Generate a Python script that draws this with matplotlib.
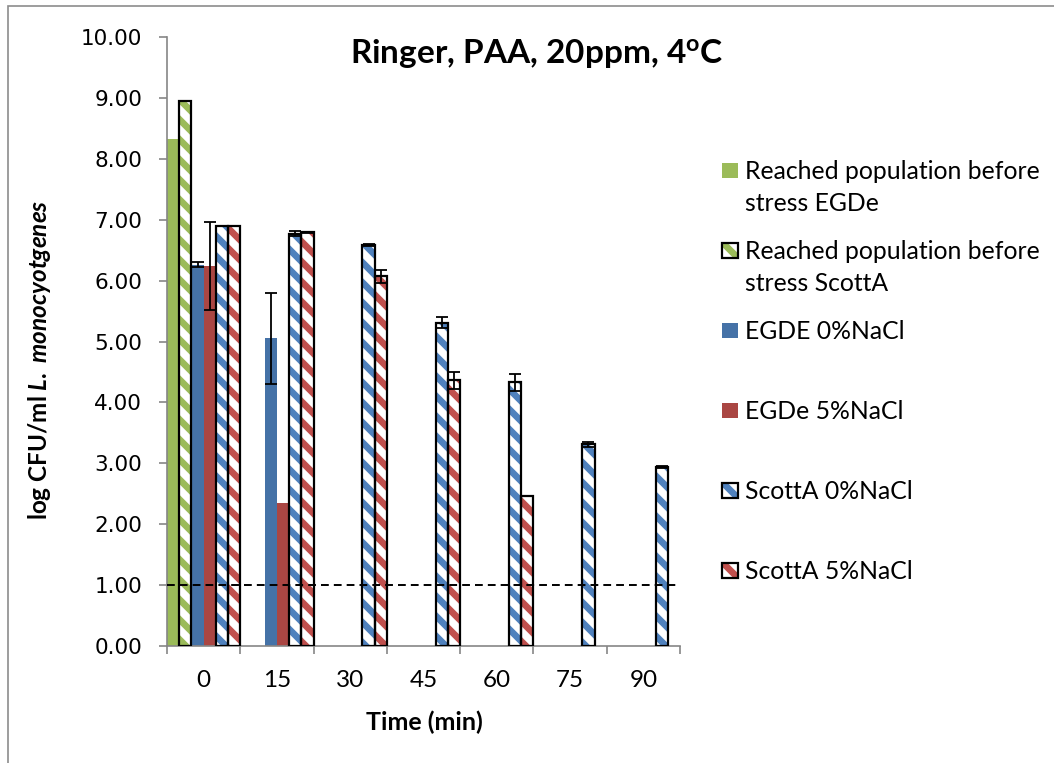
import numpy as np
import matplotlib
matplotlib.use('Agg')
import matplotlib.pyplot as plt
from matplotlib.patches import Rectangle

# Datos (log CFU/ml)
times = ['0', '15', '30', '45', '60', '75', '90']
nan = np.nan

egde_before = [8.33, nan, nan, nan, nan, nan, nan]
scotta_before = [8.95, nan, nan, nan, nan, nan, nan]
egde_0 = [6.26, 5.05, nan, nan, nan, nan, nan]
egde_0_err = [0.04, 0.75, nan, nan, nan, nan, nan]
egde_5 = [6.24, 2.34, nan, nan, nan, nan, nan]
egde_5_err = [0.72, nan, nan, nan, nan, nan, nan]
scotta_0 = [6.90, 6.77, 6.58, 5.31, 4.33, 3.31, 2.94]
scotta_0_err = [nan, 0.04, 0.02, 0.09, 0.14, 0.04, 0.02]
scotta_5 = [6.90, 6.79, 6.07, 4.36, 2.46, nan, nan]
scotta_5_err = [nan, 0.01, 0.11, 0.14, nan, nan, nan]

legend_labels = ['Reached population before\nstress EGDe',
                 'Reached population before\nstress ScottA',
                 'EGDE 0%NaCl', 'EGDe 5%NaCl',
                 'ScottA 0%NaCl', 'ScottA 5%NaCl']

green = '#9BBB59'
blue_solid = '#4572A7'
red_solid = '#AA4643'
blue_h = '#4F81BD'
red_h = '#C0504D'

# (valores, errores, color, rayado)
series = [
    (egde_before, None, green, False),
    (scotta_before, None, green, True),
    (egde_0, egde_0_err, blue_solid, False),
    (egde_5, egde_5_err, red_solid, False),
    (scotta_0, scotta_0_err, blue_h, True),
    (scotta_5, scotta_5_err, red_h, True),
]

DPI = 120
W, H = 1054, 763


def pt(v):
    # tamaños pensados a 100 dpi
    return v * 100 / DPI


plt.rcParams['hatch.linewidth'] = 4.0
plt.rcParams['mathtext.fontset'] = 'custom'
plt.rcParams['mathtext.bf'] = 'Lato:bold'
plt.rcParams['mathtext.it'] = 'Lato:italic:bold'
plt.rcParams['mathtext.rm'] = 'Lato:bold'

fig = plt.figure(figsize=(W / DPI, H / DPI), dpi=DPI)


def fx(x):
    return x / W


def fy(y):
    return 1 - y / H


ax = fig.add_axes([fx(167), fy(646), (680 - 167) / W, (646 - 37) / H])

HATCH = '\\\\'
n = len(times)
bw = 1 / 6
for k, (vals, errs, color, hatched) in enumerate(series):
    x = np.arange(n) - 0.5 + (k + 0.5) * bw
    if hatched:
        ax.bar(x, vals, bw, color='white', edgecolor=color, hatch=HATCH,
               linewidth=0, zorder=2)
        ax.bar(x, vals, bw, facecolor='none', edgecolor='black',
               linewidth=pt(1.6), zorder=3)
    else:
        ax.bar(x, vals, bw, color=color, linewidth=0, zorder=2)
    if errs is not None:
        ax.errorbar(x, vals, yerr=errs, fmt='none', ecolor='black',
                    elinewidth=pt(1.3), capsize=pt(4.6), capthick=pt(1.3), zorder=4)

# Limite de deteccion
ax.axhline(1.0, color='black', lw=pt(1.4), dashes=(4, 2.6), zorder=5)

ax.set_xlim(-0.5, n - 0.5)
ax.set_ylim(0, 10)
for s in ['top', 'right']:
    ax.spines[s].set_visible(False)
for s in ['left', 'bottom']:
    ax.spines[s].set_color('#868686')
    ax.spines[s].set_linewidth(pt(1.2))

yt = np.arange(0, 11)
ax.set_yticks(yt)
ax.set_yticklabels([f'{v:.2f}' for v in yt], fontfamily='DejaVu Sans',
                   fontsize=pt(15.5))
ax.tick_params(axis='y', length=pt(6), width=pt(1.2), color='#868686', pad=pt(12))

ax.set_xticks(np.arange(n + 1) - 0.5)
ax.set_xticklabels([])
ax.tick_params(axis='x', which='major', length=pt(6), width=pt(1.2), color='#868686')
ax.set_xticks(np.arange(n), minor=True)
ax.set_xticklabels(times, minor=True, fontfamily='Lato', fontsize=pt(17.5))
ax.tick_params(axis='x', which='minor', length=0, pad=pt(17))

fig.text(fx(537), fy(63), r'Ringer, PAA, 20ppm, 4$^{\mathbf{o}}$C',
         fontfamily='Lato', fontweight='bold', fontsize=pt(24),
         ha='center', va='baseline')
fig.text(fx(424), fy(730), 'Time (min)', fontfamily='Lato', fontweight='bold',
         fontsize=pt(18), ha='center', va='baseline')
fig.text(fx(40), fy(360), r'log CFU/ml $\mathit{L.\ monocyotgenes}$',
         fontfamily='Lato', fontweight='bold', fontsize=pt(17.5),
         rotation=90, ha='center', va='center')

# Leyenda manual (Excel)
for i, label in enumerate(legend_labels):
    base = 179.3 + 80 * i
    vals, errs, color, hatched = series[i]
    if hatched:
        fig.patches.append(Rectangle((fx(722), fy(base - 1.5)), 16 / W, 15 / H,
                                     transform=fig.transFigure, facecolor='white',
                                     edgecolor=color, hatch=HATCH, linewidth=0))
        fig.patches.append(Rectangle((fx(722), fy(base - 1.5)), 16 / W, 15 / H,
                                     transform=fig.transFigure, facecolor='none',
                                     edgecolor='black', linewidth=pt(1.6)))
    else:
        fig.patches.append(Rectangle((fx(722), fy(base - 1.5)), 16 / W, 15 / H,
                                     transform=fig.transFigure, facecolor=color,
                                     linewidth=0))
    for j, line in enumerate(label.split('\n')):
        fig.text(fx(745), fy(base + 31.7 * j), line, fontfamily='Lato',
                 fontsize=pt(17.8), ha='left', va='baseline')

# Borde del area del grafico
fig.patches.append(Rectangle((fx(8), fy(790)), 1200 / W, 784 / H,
                             transform=fig.transFigure, fill=False,
                             edgecolor='#8c8c8c', linewidth=pt(1.2)))

fig.savefig('out.png', dpi=DPI)
